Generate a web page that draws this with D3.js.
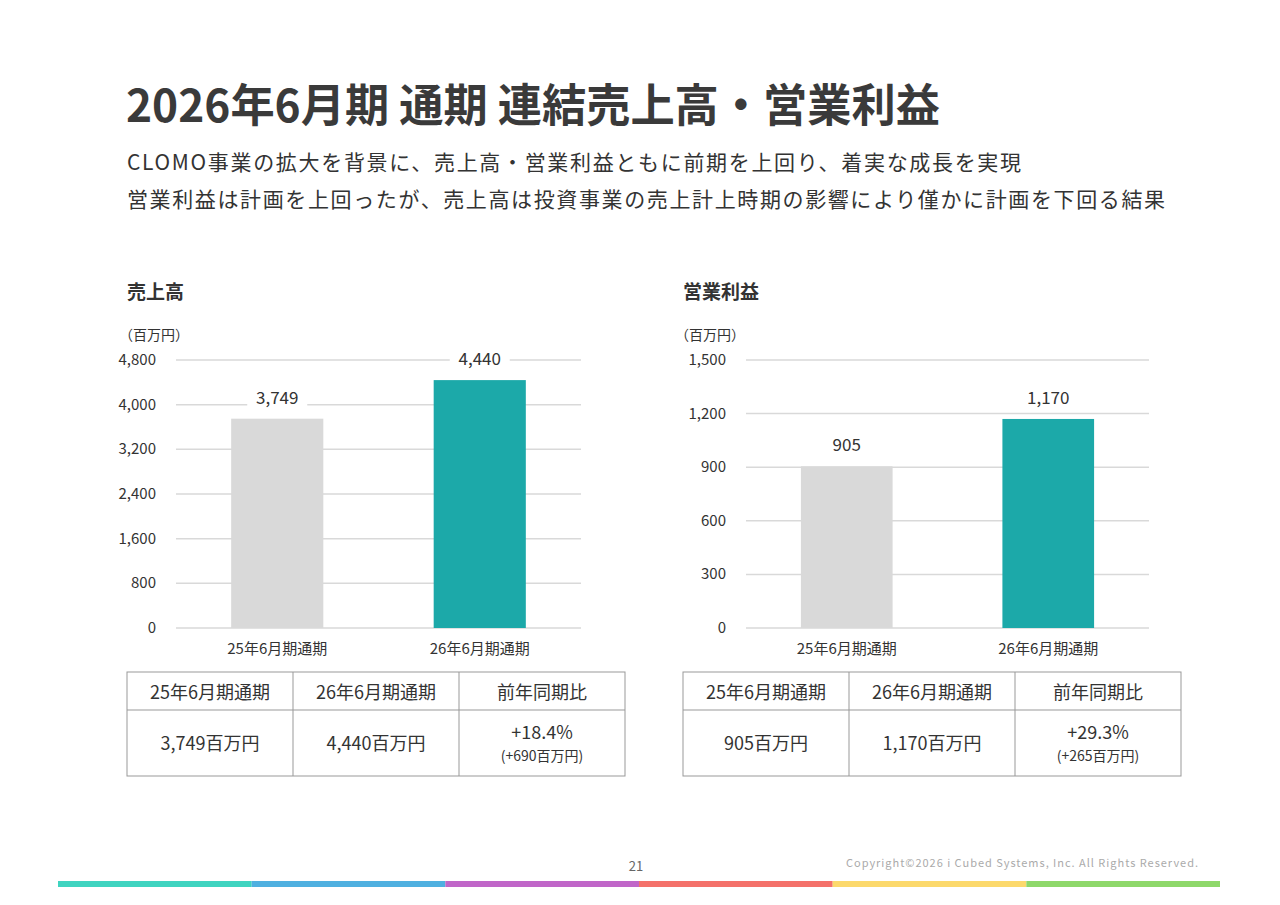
<!DOCTYPE html>
<html><head><meta charset="utf-8">
<script src="https://cdn.jsdelivr.net/npm/d3@7"></script>
<style>body{margin:0;background:#fff;font-family:"Noto Sans CJK JP","Noto Sans",sans-serif;}</style>
</head><body><div id="chart-container"></div>
<script>
const W = 1280, H = 905;
const svg = d3.select("#chart-container").append("svg").attr("width", W).attr("height", H);
const txt = "#333";

svg.append("text").attr("x", 126).attr("y", 122).attr("font-size", 45).attr("font-weight", 700)
  .attr("fill", "#3a3a3a").attr("textLength", 814).attr("lengthAdjust", "spacingAndGlyphs").text("2026年6月期 通期 連結売上高・営業利益");
svg.append("text").attr("x", 127).attr("y", 170).attr("font-size", 21).attr("fill", txt)
  .attr("textLength", 894).text("CLOMO事業の拡大を背景に、売上高・営業利益ともに前期を上回り、着実な成長を実現");
svg.append("text").attr("x", 127).attr("y", 207).attr("font-size", 21).attr("fill", txt)
  .attr("textLength", 1038).text("営業利益は計画を上回ったが、売上高は投資事業の売上計上時期の影響により僅かに計画を下回る結果");

const charts = [
  { title: "売上高", tx: 127, x0: 176, x1: 581, max: 4800, ticks: d3.range(0, 4801, 800),
    data: [{ label: "25年6月期通期", value: 3749 }, { label: "26年6月期通期", value: 4440 }],
    table: ["3,749百万円", "4,440百万円", "+18.4%", "(+690百万円)"] },
  { title: "営業利益", tx: 683, x0: 746, x1: 1149, max: 1500, ticks: d3.range(0, 1501, 300),
    data: [{ label: "25年6月期通期", value: 905 }, { label: "26年6月期通期", value: 1170 }],
    table: ["905百万円", "1,170百万円", "+29.3%", "(+265百万円)"] }
];
const colors = ["#d9d9d9", "#1ca9a9"];

charts.forEach(c => {
  const g = svg.append("g");
  g.append("text").attr("x", c.tx).attr("y", 299).attr("font-size", 19).attr("font-weight", 700).attr("fill", txt).text(c.title);
  g.append("text").attr("x", c.tx - 8).attr("y", 340).attr("font-size", 14).attr("fill", txt).text("（百万円）");
  const y = d3.scaleLinear().domain([0, c.max]).range([628, 360]);
  const x = d3.scaleBand().domain(c.data.map(d => d.label)).range([c.x0, c.x1]).paddingInner(0.545).paddingOuter(0.2725);
  g.selectAll(".grid").data(c.ticks).enter().append("line")
    .attr("x1", c.x0).attr("x2", c.x1).attr("y1", d => y(d)).attr("y2", d => y(d))
    .attr("stroke", "#d9d9d9").attr("stroke-width", 1.5);
  g.selectAll(".tl").data(c.ticks).enter().append("text")
    .attr("x", c.x0 - 20).attr("y", d => y(d) + 5).attr("text-anchor", "end")
    .attr("font-size", 15).attr("fill", txt).text(d => d3.format(",")(d));
  g.selectAll("rect.bar").data(c.data).enter().append("rect")
    .attr("x", d => x(d.label)).attr("width", x.bandwidth())
    .attr("y", d => y(d.value)).attr("height", d => 628 - y(d.value))
    .attr("fill", (d, i) => colors[i]);
  c.data.forEach(d => {
    const cx = x(d.label) + x.bandwidth() / 2, ly = y(d.value) - 15;
    g.append("rect").attr("x", cx - 30).attr("y", ly - 15).attr("width", 60).attr("height", 22).attr("fill", "#fff");
    g.append("text").attr("x", cx).attr("y", ly).attr("text-anchor", "middle").attr("font-size", 17).attr("fill", txt)
      .text(d3.format(",")(d.value));
    g.append("text").attr("x", cx).attr("y", 654).attr("text-anchor", "middle").attr("font-size", 15).attr("fill", txt).text(d.label);
  });
  // table
  const tx0 = c.tx, cw = 166, r0 = 672, r1 = 710, r2 = 776;
  const tb = svg.append("g");
  tb.append("rect").attr("x", tx0).attr("y", r0).attr("width", cw * 3).attr("height", r2 - r0)
    .attr("fill", "none").attr("stroke", "#999");
  tb.append("line").attr("x1", tx0).attr("x2", tx0 + cw * 3).attr("y1", r1).attr("y2", r1).attr("stroke", "#999");
  [1, 2].forEach(i => tb.append("line").attr("x1", tx0 + cw * i).attr("x2", tx0 + cw * i).attr("y1", r0).attr("y2", r2).attr("stroke", "#999"));
  ["25年6月期通期", "26年6月期通期", "前年同期比"].forEach((h, i) =>
    tb.append("text").attr("x", tx0 + cw * i + cw / 2).attr("y", 699).attr("text-anchor", "middle").attr("font-size", 18).attr("fill", txt).text(h));
  [0, 1].forEach(i => tb.append("text").attr("x", tx0 + cw * i + cw / 2).attr("y", 750).attr("text-anchor", "middle").attr("font-size", 18).attr("fill", txt).text(c.table[i]));
  tb.append("text").attr("x", tx0 + cw * 2.5).attr("y", 739).attr("text-anchor", "middle").attr("font-size", 18).attr("fill", txt).text(c.table[2]);
  tb.append("text").attr("x", tx0 + cw * 2.5).attr("y", 761).attr("text-anchor", "middle").attr("font-size", 14).attr("fill", txt).text(c.table[3]);
});

svg.append("text").attr("x", 636).attr("y", 871).attr("text-anchor", "middle").attr("font-size", 13).attr("fill", "#666").text("21");
svg.append("text").attr("x", 846).attr("y", 867).attr("font-size", 11).attr("fill", "#aaa")
  .attr("textLength", 352).text("Copyright©2026 i Cubed Systems, Inc. All Rights Reserved.");
const stripe = ["#3fd4c0", "#4fb0e0", "#c066c8", "#f4716a", "#fcd96c", "#8ed86a"];
const sx = d3.scaleBand().domain(d3.range(6)).range([58, 1220]);
svg.selectAll("rect.stripe").data(stripe).enter().append("rect")
  .attr("x", (d, i) => sx(i)).attr("width", sx.bandwidth()).attr("y", 881).attr("height", 6).attr("fill", d => d);
</script></body></html>
